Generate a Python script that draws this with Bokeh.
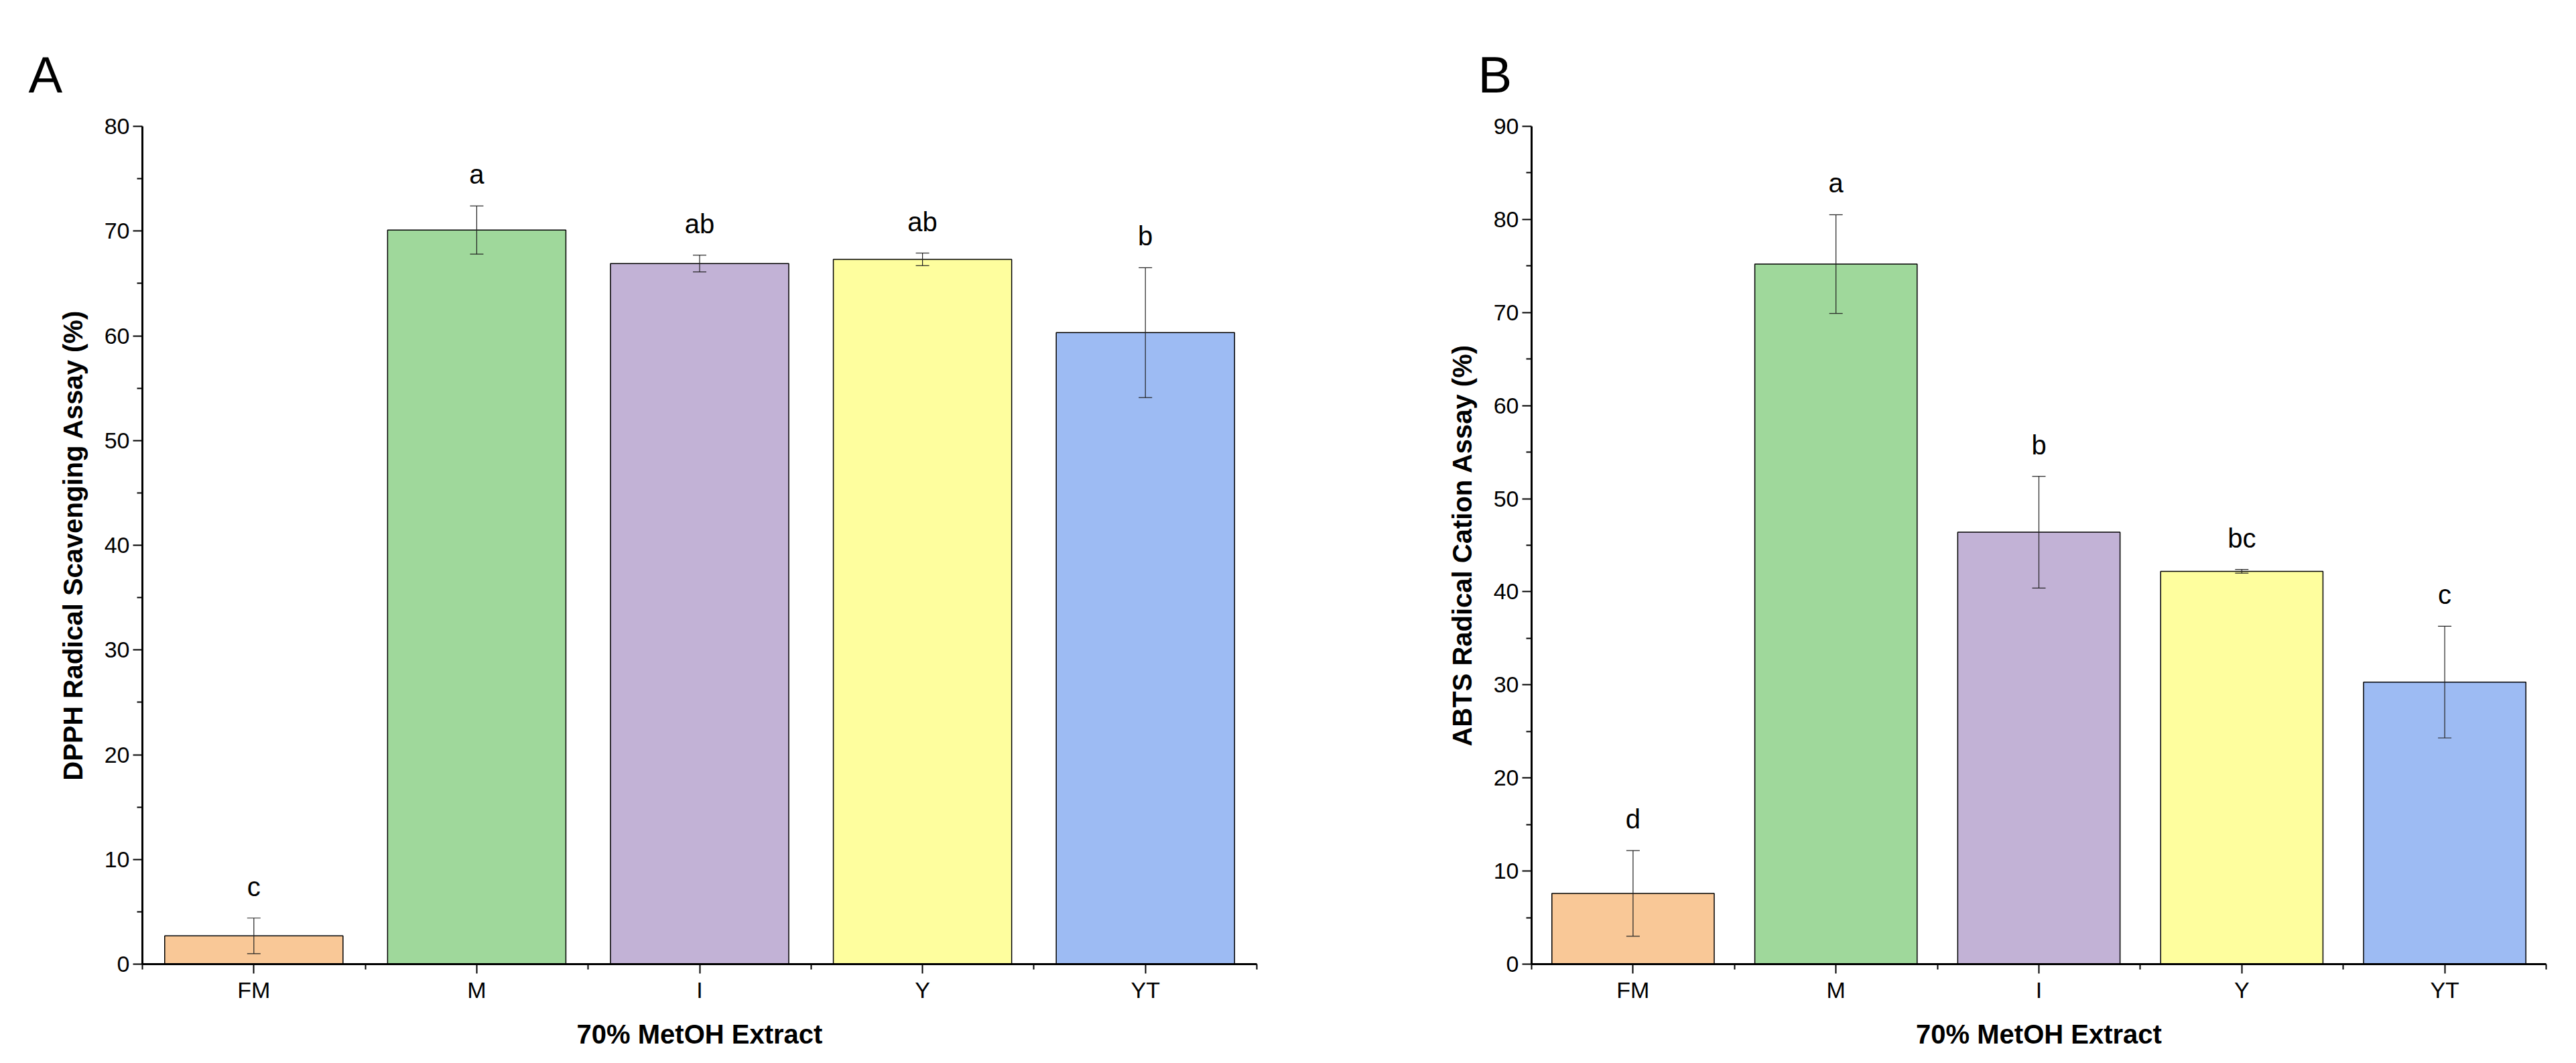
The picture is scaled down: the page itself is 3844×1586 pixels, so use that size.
from bokeh.plotting import figure
from bokeh.models import ColumnDataSource, Whisker, TeeHead, FixedTicker, Title
from bokeh.layouts import row
from bokeh.embed import file_html
from bokeh.resources import INLINE

categories = ["FM", "M", "I", "Y", "YT"]
colors = ["#F9C897", "#9FD89B", "#C2B2D6", "#FEFE9E", "#9DBBF3"]
dpph_mean = [2.7, 70.1, 66.9, 67.3, 60.3]
dpph_err = [1.7, 2.3, 0.8, 0.6, 6.2]
dpph_letters = ["c", "a", "ab", "ab", "b"]
abts_mean = [7.6, 75.2, 46.4, 42.2, 30.3]
abts_err = [4.6, 5.3, 6.0, 0.2, 6.0]
abts_letters = ["d", "a", "b", "bc", "c"]

FONT = "Liberation Sans"

def make(label, means, errs, letters, ymax, ylabel, width, left, right, offset):
    x = list(range(1, len(categories) + 1))
    src = ColumnDataSource(dict(
        x=x, top=means, color=colors,
        upper=[m + e for m, e in zip(means, errs)],
        lower=[m - e for m, e in zip(means, errs)],
        ly=[m + e + ymax * 0.02 for m, e in zip(means, errs)],
        txt=letters))
    p = figure(width=width, height=1570, x_range=(0.5, 5.5), y_range=(0, ymax),
               output_backend="svg", toolbar_location=None,
               min_border_left=left, min_border_right=right,
               min_border_top=188, min_border_bottom=132)
    p.title = Title(text=label, text_font=FONT, text_font_size="76px",
                    text_font_style="normal", text_color="black",
                    offset=offset, standoff=70)
    p.vbar(x="x", top="top", width=0.8, fill_color="color", line_color="black",
           line_width=1.5, source=src)
    w = Whisker(base="x", upper="upper", lower="lower", source=src, line_width=1.2,
                line_color="#222222", level="overlay",
                upper_head=TeeHead(size=20, line_width=1.2, line_color="#222222"),
                lower_head=TeeHead(size=20, line_width=1.2, line_color="#222222"))
    p.add_layout(w)
    p.text(x="x", y="ly", text="txt", source=src, text_align="center",
           text_baseline="bottom", text_font_size="40px", text_color="black",
           text_font={"value": FONT})
    p.xgrid.visible = False
    p.ygrid.visible = False
    p.outline_line_color = None
    p.xaxis.ticker = FixedTicker(ticks=x, minor_ticks=[0.5 + i for i in range(6)])
    p.xaxis.major_label_overrides = {i + 1: c for i, c in enumerate(categories)}
    p.yaxis.ticker = FixedTicker(ticks=list(range(0, ymax + 1, 10)),
                                 minor_ticks=list(range(5, ymax, 10)))
    p.xaxis.axis_label = "70% MetOH Extract"
    p.yaxis.axis_label = ylabel
    for ax in (p.xaxis[0], p.yaxis[0]):
        ax.axis_line_width = 3
        ax.axis_line_color = "black"
        ax.major_tick_line_color = "black"
        ax.minor_tick_line_color = "black"
        ax.major_tick_line_width = 2
        ax.minor_tick_line_width = 2
        ax.major_tick_out = 14
        ax.major_tick_in = 0
        ax.minor_tick_out = 8
        ax.minor_tick_in = 0
        ax.major_label_text_font = FONT
        ax.major_label_text_font_size = "34px"
        ax.major_label_text_color = "black"
        ax.axis_label_text_font = FONT
        ax.axis_label_text_font_size = "40px"
        ax.axis_label_text_font_style = "bold"
        ax.axis_label_text_color = "black"
        ax.axis_label_standoff = 22
    return p

pa = make("A", dpph_mean, dpph_err, dpph_letters, 80,
          "DPPH Radical Scavenging Assay (%)", 1900, 212, 25, -170)
pb = make("B", abts_mean, abts_err, abts_letters, 90,
          "ABTS Radical Cation Assay (%)", 1928, 385, 29, -80)

layout = row(pa, pb)
open("out.html", "w").write(file_html(layout, INLINE))
